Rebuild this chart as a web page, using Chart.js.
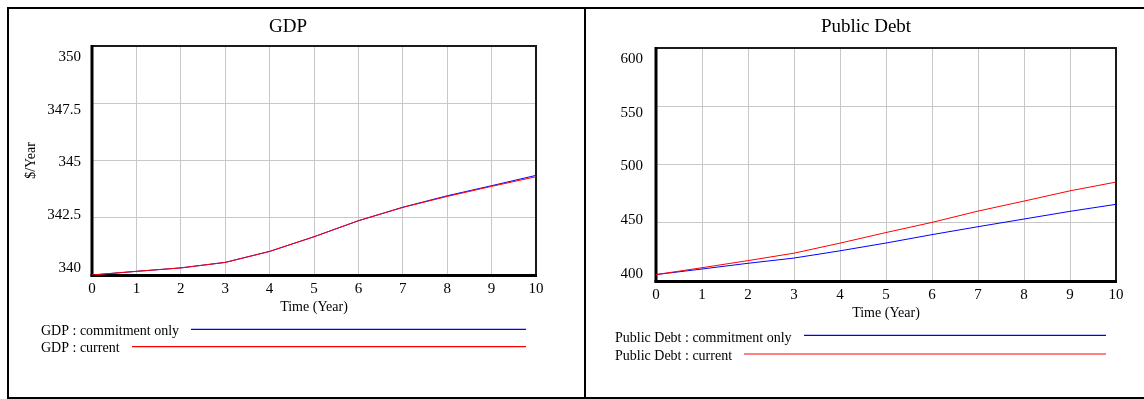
<!DOCTYPE html>
<html>
<head>
<meta charset="utf-8">
<script src="https://cdn.jsdelivr.net/npm/chart.js@4.4.1/dist/chart.umd.min.js"></script>
<style>
  html, body { margin: 0; padding: 0; background: #fff; }
  #page { position: relative; width: 1144px; height: 399px; overflow: hidden; background: #fff; }
  #page canvas { position: absolute; left: 0; top: 0; }
  .rule { position: absolute; background: #000; }
</style>
</head>
<body>
<div id="page">
  <canvas id="gdpChart" width="1144" height="399"></canvas>
  <canvas id="debtChart" width="1144" height="399"></canvas>
  <div class="rule" style="left:7px;top:7px;width:1137px;height:2px"></div>
  <div class="rule" style="left:7px;top:397px;width:1137px;height:2px"></div>
  <div class="rule" style="left:7px;top:7px;width:2px;height:392px"></div>
  <div class="rule" style="left:584px;top:7px;width:2px;height:392px"></div>
</div>
<script>
// Simulation time axis (years)
const years = [0, 1, 2, 3, 4, 5, 6, 7, 8, 9, 10];

// GDP ($/Year) for each run
const gdpCommitmentOnly = [340.00, 340.16, 340.31, 340.55, 341.03, 341.67, 342.37, 342.96, 343.46, 343.90, 344.35];
const gdpCurrent        = [340.00, 340.16, 340.31, 340.55, 341.03, 341.67, 342.37, 342.95, 343.43, 343.87, 344.29];

// Public Debt for each run
const debtCommitmentOnly = [405.5, 410.3, 415.2, 419.7, 425.9, 432.6, 439.8, 446.6, 453.2, 459.8, 465.8];
const debtCurrent        = [405.5, 411.4, 417.5, 423.9, 432.5, 441.6, 450.3, 460.0, 468.6, 477.4, 484.9];

// Axis tick labels
const yearTickLabels = ['0', '1', '2', '3', '4', '5', '6', '7', '8', '9', '10'];
const gdpTickLabels  = ['350', '347.5', '345', '342.5', '340'];
const debtTickLabels = ['600', '550', '500', '450', '400'];

const SERIF = '"Liberation Serif", "Times New Roman", serif';
const BLUE = '#0000ff';
const RED = '#ff0000';
const GRID = '#c8c8c8';

function toPoints(xs, ys) {
  return xs.map((x, i) => ({ x: x, y: ys[i] }));
}

function makePanel(canvasId, spec) {
  // Frame around the plotting area: heavier on the left and bottom edges
  const framePlugin = {
    id: 'plotFrame',
    beforeDatasetsDraw(chart) {
      const a = chart.chartArea;
      const ctx = chart.ctx;
      ctx.save();
      ctx.strokeStyle = '#1a1a1a';
      ctx.lineWidth = 2;
      ctx.strokeRect(a.left, a.top, a.right - a.left, a.bottom - a.top);
      ctx.fillStyle = '#000';
      ctx.fillRect(a.left - 1.5, a.top - 1, 3, a.bottom - a.top + 2.5);
      ctx.fillRect(a.left - 1.5, a.bottom - 1, a.right - a.left + 2.5, 3);
      ctx.restore();
    }
  };

  // Legend rows, top to bottom
  const legendItems = [
    { label: spec.name + ' : commitment only', color: BLUE },
    { label: spec.name + ' : current', color: RED }
  ];

  // Title, tick labels, axis titles and the line legend
  const textPlugin = {
    id: 'panelText',
    afterDraw(chart) {
      const a = chart.chartArea;
      const ctx = chart.ctx;
      const xs = chart.scales.x;
      ctx.save();
      ctx.fillStyle = '#000';

      // title
      ctx.font = '19px ' + SERIF;
      ctx.textAlign = 'center';
      ctx.textBaseline = 'alphabetic';
      ctx.fillText(spec.title, spec.titleX, 32);

      // value labels, spread evenly between the top and bottom of the plot
      ctx.font = '15px ' + SERIF;
      ctx.textAlign = 'right';
      const n = spec.yLabels.length;
      const y0 = a.top + 15, y1 = a.bottom - 3.5;
      spec.yLabels.forEach((lab, i) => {
        ctx.fillText(lab, spec.yLabelRight, y0 + i * (y1 - y0) / (n - 1));
      });

      // time labels
      ctx.textAlign = 'center';
      yearTickLabels.forEach((lab, i) => {
        ctx.fillText(lab, xs.getPixelForValue(years[i]), a.bottom + 18.3);
      });

      // axis titles
      ctx.font = '14px ' + SERIF;
      ctx.fillText('Time (Year)', (a.left + a.right) / 2, a.bottom + 36);
      if (spec.yTitle) {
        ctx.save();
        ctx.translate(spec.yTitleX, (a.top + a.bottom) / 2);
        ctx.rotate(-Math.PI / 2);
        ctx.textBaseline = 'middle';
        ctx.fillText(spec.yTitle, 0, 0);
        ctx.restore();
      }

      // legend rows: label followed by a sample line
      ctx.font = '14px ' + SERIF;
      ctx.textAlign = 'left';
      legendItems.forEach((item, i) => {
        const row = spec.legendRows[i];
        ctx.fillStyle = '#000';
        ctx.fillText(item.label, spec.legendX, row.text);
        const start = Math.round(spec.legendX + ctx.measureText(item.label).width + 12);
        ctx.strokeStyle = item.color;
        ctx.lineWidth = 1.2;
        ctx.beginPath();
        ctx.moveTo(start, row.line);
        ctx.lineTo(spec.legendEnd, row.line);
        ctx.stroke();
      });
      ctx.restore();
    }
  };

  return new Chart(document.getElementById(canvasId), {
    type: 'line',
    data: {
      datasets: [
        { label: legendItems[1].label, data: toPoints(years, spec.current),
          borderColor: RED, borderWidth: 1, pointRadius: 0, tension: 0, fill: false },
        { label: legendItems[0].label, data: toPoints(years, spec.commitment),
          borderColor: BLUE, borderWidth: 1, pointRadius: 0, tension: 0, fill: false }
      ]
    },
    options: {
      responsive: false,
      animation: false,
      devicePixelRatio: 1,
      layout: { padding: spec.padding },
      plugins: { legend: { display: false }, tooltip: { enabled: false }, title: { display: false } },
      scales: {
        x: {
          type: 'linear', min: 0, max: 10,
          ticks: { display: false, stepSize: 1 },
          grid: { color: GRID, lineWidth: 1, drawTicks: false },
          border: { display: false }
        },
        y: {
          type: 'linear', min: spec.yMin, max: spec.yMax,
          ticks: { display: false, stepSize: spec.yStep },
          grid: { color: GRID, lineWidth: 1, drawTicks: false },
          border: { display: false }
        }
      }
    },
    plugins: [framePlugin, textPlugin]
  });
}

makePanel('gdpChart', {
  name: 'GDP', title: 'GDP', titleX: 288,
  commitment: gdpCommitmentOnly, current: gdpCurrent,
  yMin: 340, yMax: 350, yStep: 2.5, yLabels: gdpTickLabels, yLabelRight: 81,
  yTitle: '$/Year', yTitleX: 31,
  padding: { left: 92, top: 46, right: 1144 - 536, bottom: 399 - 275 },
  legendX: 41, legendEnd: 526,
  legendRows: [{ text: 335, line: 329.3 }, { text: 352, line: 346.7 }]
});

makePanel('debtChart', {
  name: 'Public Debt', title: 'Public Debt', titleX: 866,
  commitment: debtCommitmentOnly, current: debtCurrent,
  yMin: 400, yMax: 600, yStep: 50, yLabels: debtTickLabels, yLabelRight: 643,
  yTitle: null,
  padding: { left: 656, top: 48, right: 1144 - 1116, bottom: 399 - 281 },
  legendX: 615, legendEnd: 1106,
  legendRows: [{ text: 341.5, line: 335.3 }, { text: 360, line: 354 }]
});
</script>
</body>
</html>
